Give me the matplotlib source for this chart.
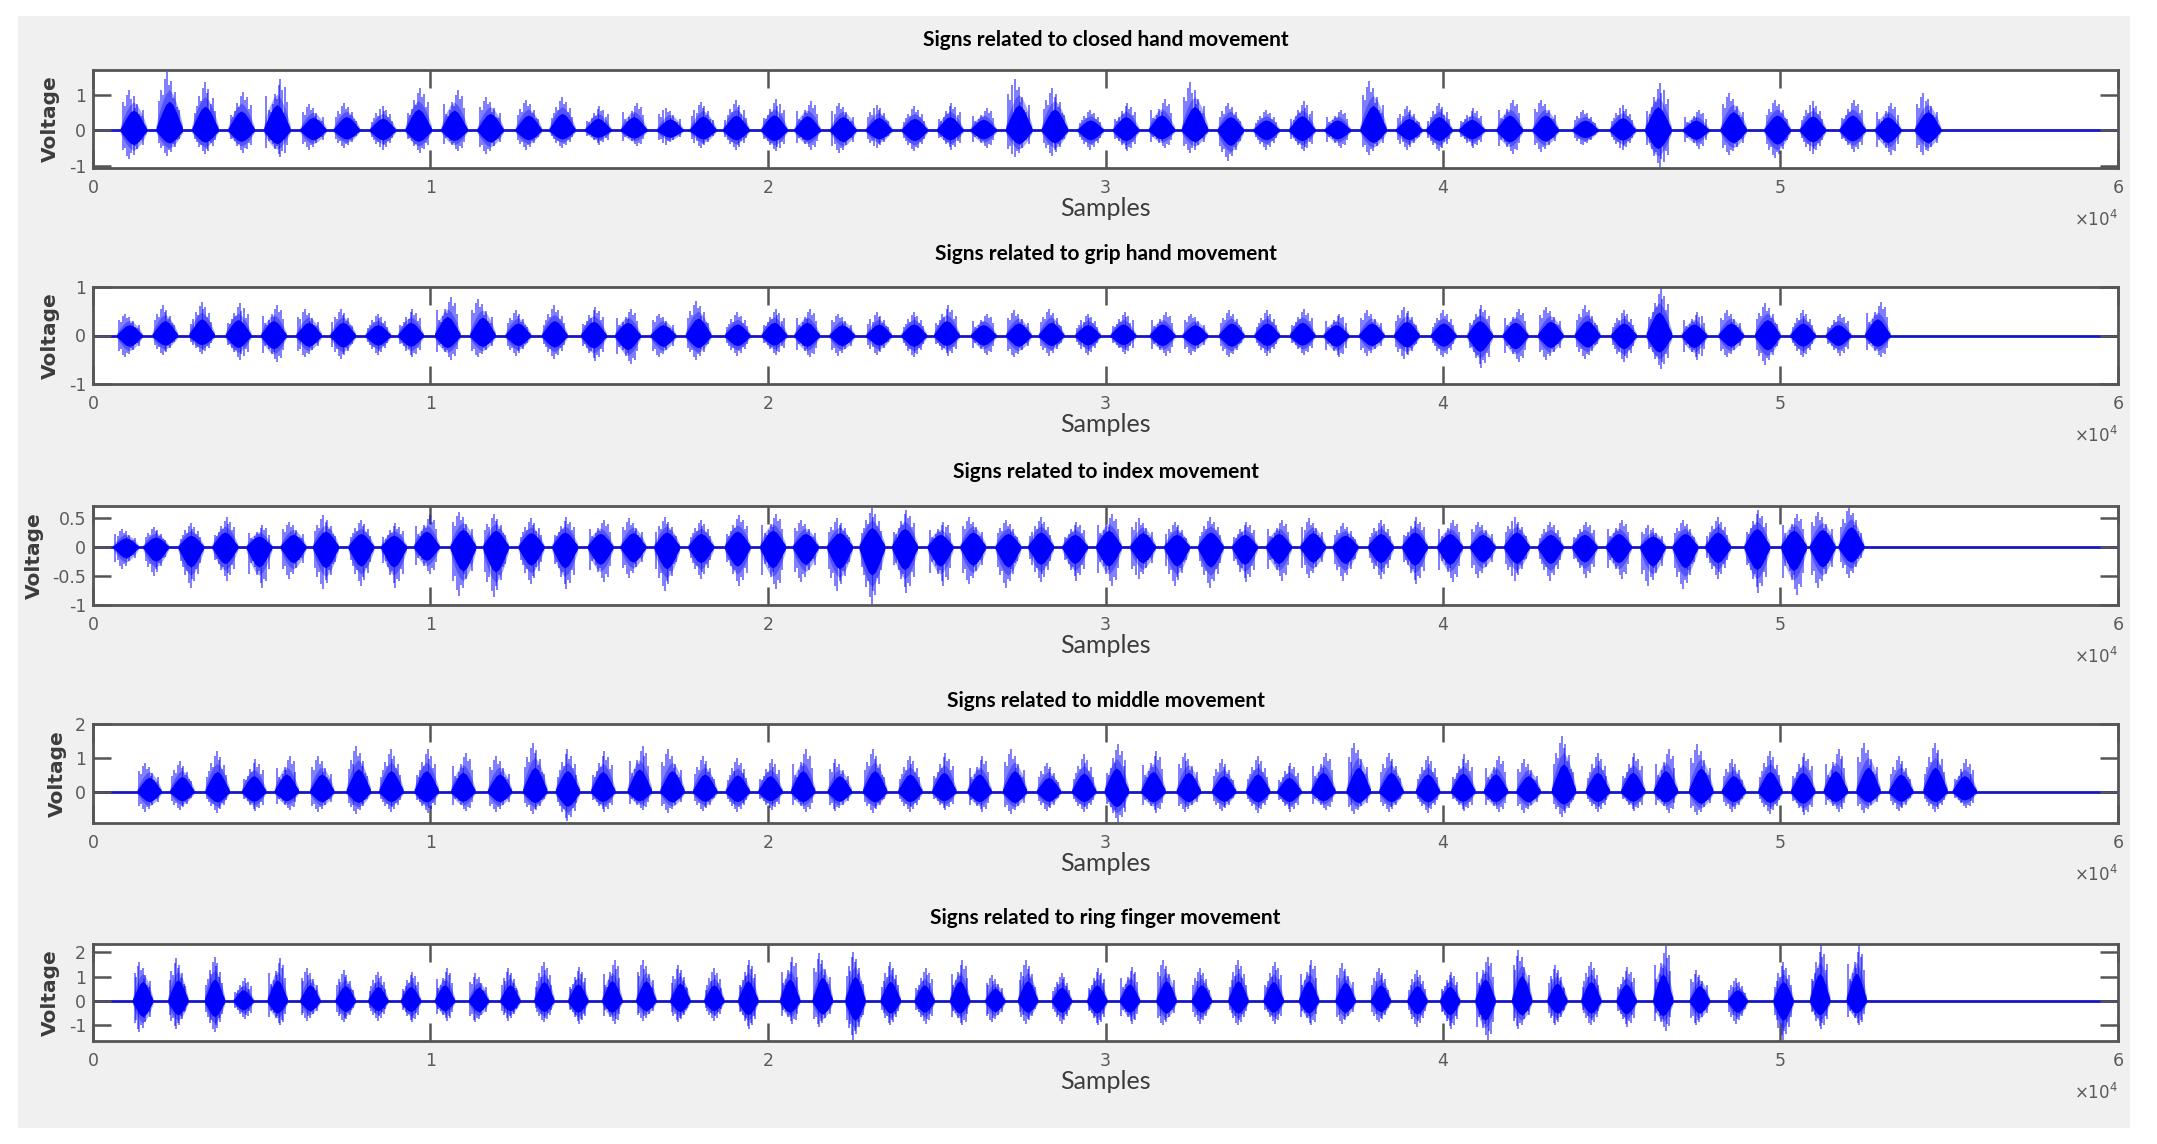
import numpy as np
import matplotlib
matplotlib.use("Agg")
import matplotlib.pyplot as plt
import matplotlib.transforms as mtransforms
from matplotlib.patches import Rectangle
from matplotlib.ticker import FuncFormatter

plt.rcParams['axes.unicode_minus'] = False

# ==============================
# Data (burst centres in samples, peak voltages)
# ==============================

titles = [
    "Signs related to closed hand movement",
    "Signs related to grip hand movement",
    "Signs related to index movement",
    "Signs related to middle movement",
    "Signs related to ring finger movement",
]

closed_centers = [1200, 2260, 3320, 4390, 5450, 6520, 7510, 8580, 9640, 10700,
                  11770, 12900, 13900, 14960, 16020, 17090, 18070, 19050, 20180, 21160,
                  22220, 23280, 24340, 25390, 26380, 27430, 28490, 29550, 30600, 31660,
                  32640, 33700, 34760, 35820, 36870, 37930, 38990, 39880, 40850, 41970,
                  43030, 44210, 45320, 46370, 47490, 48600, 49900, 50950, 52130, 53180,
                  54360]
closed_tops = [1.14, 1.64, 1.36, 1.09, 1.45, 0.73, 0.77, 0.68, 1.2, 1.14,
               0.95, 0.86, 0.95, 0.68, 0.77, 0.64, 0.8, 0.85, 0.87, 0.82,
               0.77, 0.72, 0.67, 0.77, 0.62, 1.44, 1.2, 0.58, 0.77, 0.87,
               1.35, 0.77, 0.58, 0.82, 0.58, 1.4, 0.67, 0.77, 0.62, 0.86,
               0.86, 0.57, 0.71, 1.33, 0.57, 1.05, 0.86, 0.81, 0.86, 0.76,
               1.05]
closed_bottoms = [-0.82, -0.73, -0.68, -0.64, -0.77, -0.55, -0.5, -0.55, -0.64, -0.59,
                  -0.68, -0.55, -0.5, -0.41, -0.45, -0.41, -0.5, -0.55, -0.6, -0.55,
                  -0.65, -0.5, -0.6, -0.55, -0.5, -0.77, -0.72, -0.55, -0.6, -0.5,
                  -0.65, -0.87, -0.55, -0.6, -0.5, -0.7, -0.55, -0.6, -0.5, -0.67,
                  -0.62, -0.43, -0.57, -1.05, -0.52, -0.71, -0.8, -0.67, -0.62, -0.71,
                  -0.71]

grip_centers = [1080, 2130, 3220, 4300, 5350, 6390, 7400, 8440, 9410, 10500,
                11540, 12590, 13670, 14830, 15840, 16890, 17930, 19090, 20180, 21150,
                22190, 23280, 24320, 25290, 26380, 27420, 28390, 29470, 30520, 31680,
                32650, 33730, 34780, 35830, 36830, 37880, 38920, 40010, 41090, 42140,
                43180, 44270, 45350, 46400, 47440, 48530, 49610, 50660, 51710, 52870]
grip_tops = [0.45, 0.62, 0.69, 0.66, 0.62, 0.55, 0.55, 0.45, 0.55, 0.79,
             0.76, 0.52, 0.62, 0.59, 0.55, 0.45, 0.72, 0.48, 0.55, 0.55,
             0.45, 0.48, 0.48, 0.62, 0.45, 0.52, 0.55, 0.45, 0.48, 0.48,
             0.45, 0.52, 0.52, 0.55, 0.45, 0.52, 0.59, 0.52, 0.62, 0.55,
             0.59, 0.62, 0.52, 0.97, 0.48, 0.52, 0.66, 0.52, 0.45, 0.69]
grip_bottoms = [-0.45, -0.4, -0.38, -0.5, -0.55, -0.45, -0.48, -0.4, -0.45, -0.5,
                -0.45, -0.42, -0.48, -0.52, -0.59, -0.45, -0.5, -0.42, -0.4, -0.45,
                -0.42, -0.4, -0.45, -0.42, -0.4, -0.45, -0.42, -0.4, -0.38, -0.42,
                -0.4, -0.45, -0.42, -0.4, -0.45, -0.42, -0.48, -0.45, -0.66, -0.55,
                -0.5, -0.48, -0.55, -0.69, -0.5, -0.45, -0.6, -0.45, -0.42, -0.45]

index_centers = [970, 1860, 2900, 3910, 4920, 5930, 6890, 7940, 8910, 9880,
                 10960, 11930, 12980, 13980, 15030, 16000, 17000, 18010, 19090, 20140,
                 21110, 22120, 23080, 24050, 25100, 26070, 27110, 28080, 29090, 30090,
                 31100, 32110, 33110, 34120, 35130, 36140, 37100, 38150, 39160, 40200,
                 41170, 42180, 43180, 44190, 45200, 46210, 47170, 48140, 49300, 50390,
                 51240, 52090]
index_tops = [0.31, 0.34, 0.4, 0.51, 0.37, 0.43, 0.54, 0.46, 0.4, 0.54,
              0.6, 0.57, 0.49, 0.51, 0.46, 0.49, 0.51, 0.46, 0.54, 0.57,
              0.46, 0.49, 0.66, 0.63, 0.43, 0.51, 0.46, 0.51, 0.43, 0.57,
              0.49, 0.43, 0.51, 0.43, 0.46, 0.49, 0.4, 0.46, 0.51, 0.46,
              0.43, 0.51, 0.43, 0.43, 0.46, 0.37, 0.46, 0.51, 0.63, 0.57,
              0.6, 0.69]
index_bottoms = [-0.38, -0.5, -0.7, -0.58, -0.7, -0.55, -0.73, -0.67, -0.7, -0.47,
                 -0.84, -0.87, -0.64, -0.73, -0.61, -0.53, -0.76, -0.55, -0.67, -0.73,
                 -0.61, -0.76, -0.98, -0.79, -0.67, -0.64, -0.7, -0.61, -0.58, -0.67,
                 -0.55, -0.67, -0.7, -0.61, -0.58, -0.53, -0.58, -0.55, -0.64, -0.61,
                 -0.53, -0.58, -0.58, -0.53, -0.55, -0.67, -0.73, -0.55, -0.79, -0.82,
                 -0.7, -0.53]

middle_centers = [1665, 2634, 3679, 4764, 5732, 6778, 7862, 8830, 9876, 10961,
                  12045, 13091, 14059, 15105, 16189, 17157, 18126, 19094, 20062, 21030,
                  22115, 23160, 24206, 25213, 26259, 27305, 28312, 29357, 30325, 31410,
                  32456, 33501, 34508, 35438, 36445, 37491, 38459, 39543, 40589, 41557,
                  42525, 43571, 44578, 45624, 46592, 47638, 48606, 49690, 50659, 51627,
                  52595, 53563, 54580, 55450]
middle_tops = [0.85, 0.9, 1.2, 0.95, 1.05, 1.05, 1.35, 1.25, 1.25, 1.15,
               1.05, 1.45, 1.25, 1.2, 1.35, 1.25, 1.05, 1.0, 0.95, 1.25,
               0.95, 1.25, 1.05, 1.15, 1.05, 1.25, 0.85, 1.1, 1.4, 1.2,
               1.15, 0.95, 1.05, 0.85, 1.15, 1.45, 1.15, 1.05, 1.1, 1.05,
               0.95, 1.65, 1.15, 1.15, 1.25, 1.4, 0.95, 1.2, 1.15, 1.25,
               1.45, 1.05, 1.45, 0.95]
middle_bottoms = [-0.6, -0.55, -0.62, -0.58, -0.55, -0.6, -0.65, -0.6, -0.62, -0.58,
                  -0.6, -0.65, -0.88, -0.6, -0.55, -0.62, -0.58, -0.6, -0.55, -0.6,
                  -0.58, -0.62, -0.6, -0.55, -0.6, -0.65, -0.58, -0.6, -0.9, -0.62,
                  -0.6, -0.58, -0.62, -0.6, -0.55, -0.65, -0.6, -0.62, -0.58, -0.6,
                  -0.62, -0.75, -0.6, -0.58, -0.62, -0.7, -0.6, -0.65, -0.7, -0.6,
                  -0.62, -0.58, -0.6, -0.5]

ring_centers = [1472, 2517, 3602, 4454, 5461, 6429, 7475, 8443, 9411, 10418,
                11425, 12355, 13362, 14369, 15376, 16383, 17390, 18397, 19404, 20643,
                21611, 22580, 23625, 24632, 25678, 26724, 27692, 28699, 29745, 30713,
                31797, 32843, 33927, 34973, 36019, 37103, 38149, 39233, 40201, 41247,
                42332, 43378, 44384, 45430, 46515, 47599, 48722, 50078, 51162, 52246]
ring_tops = [1.62, 1.76, 1.83, 0.93, 1.76, 1.35, 1.28, 1.21, 1.21, 1.35,
             1.14, 1.35, 1.62, 1.42, 1.69, 1.69, 1.49, 1.35, 1.69, 1.83,
             1.97, 2.04, 1.62, 1.35, 1.69, 1.07, 1.69, 1.14, 1.35, 1.42,
             1.69, 1.35, 1.69, 1.62, 1.69, 1.56, 1.35, 1.28, 1.21, 1.83,
             2.11, 1.49, 1.62, 1.42, 2.25, 1.28, 0.93, 1.62, 2.3, 2.3]
ring_bottoms = [-1.29, -1.15, -1.29, -0.74, -1.01, -0.81, -0.88, -0.81, -0.88, -0.81,
                -0.88, -0.81, -0.88, -0.94, -0.94, -0.81, -0.88, -0.81, -1.15, -0.94,
                -1.08, -1.6, -1.01, -0.94, -1.01, -0.88, -0.94, -0.94, -1.01, -0.94,
                -1.01, -0.94, -1.01, -0.94, -1.01, -0.94, -0.88, -1.08, -1.15, -1.6,
                -1.15, -1.01, -1.01, -1.08, -1.22, -1.01, -0.94, -1.6, -1.15, -1.01]

y_limits = [(-1.07, 1.7), (-1.0, 1.0), (-1.0, 0.7), (-0.93, 2.0), (-1.65, 2.35)]
y_ticks = [[-1, 0, 1], [-1, 0, 1], [-1, -0.5, 0, 0.5], [0, 1, 2], [-1, 0, 1, 2]]
x_ticks = [0, 10000, 20000, 30000, 40000, 50000, 60000]

# ==============================
# Drawing helpers
# ==============================

BLUE = '#0000ff'
SPINDLE_X = np.array([-0.5, -0.4, -0.28, -0.14, 0.0, 0.14, 0.28, 0.4, 0.5])
CORE_Y = np.array([0.05, 0.16, 0.3, 0.44, 0.5, 0.44, 0.3, 0.16, 0.05])
OUTER_Y = np.array([0.1, 0.28, 0.46, 0.62, 0.7, 0.62, 0.46, 0.28, 0.1])
SPIKE_X = np.array([-0.4, -0.32, -0.24, -0.16, -0.08, 0.0, 0.06, 0.13, 0.21, 0.29, 0.37])
SPIKE_H = np.array([0.35, 0.5, 0.7, 0.6, 0.88, 1.0, 0.78, 0.85, 0.55, 0.66, 0.4])


def draw_bursts(ax, centers, tops, bottoms, width):
    for k, (c, hi, lo) in enumerate(zip(centers, tops, bottoms)):
        xs = c + width * SPINDLE_X
        ax.fill_between(xs, lo * OUTER_Y, hi * OUTER_Y, color=BLUE, alpha=0.35, lw=0)
        ax.fill_between(xs, lo * CORE_Y, hi * CORE_Y, color=BLUE, lw=0)
        h = np.roll(SPIKE_H, k % 5 - 2)
        ax.vlines(c + width * SPIKE_X, lo * h, hi * h, color=BLUE, lw=1.1, alpha=0.65)


# ==============================
# Figure
# ==============================

W, H = 2157, 1144
fig = plt.figure(figsize=(W / 100, H / 100), dpi=100)
fig.patches.append(Rectangle((18 / W, 1 - 1128 / H), (2130 - 18) / W, (1128 - 16) / H,
                             transform=fig.transFigure, facecolor='#f0f0f0',
                             edgecolor='none', zorder=-10))

boxes = [(70, 168), (287, 384), (506, 605), (724, 823), (944, 1041)]
title_gap = [30, 33, 34, 23, 26]
signals = [
    (closed_centers, closed_tops, closed_bottoms, 780),
    (grip_centers, grip_tops, grip_bottoms, 760),
    (index_centers, index_tops, index_bottoms, 760),
    (middle_centers, middle_tops, middle_bottoms, 720),
    (ring_centers, ring_tops, ring_bottoms, 600),
]

GREY_TXT = '#5a5a5a'
EDGE = '#555555'

for i, (top, bot) in enumerate(boxes):
    ax = fig.add_axes([93 / W, 1 - bot / H, (2118 - 93) / W, (bot - top) / H])
    ax.set_facecolor('white')
    centers, tops, bottoms, width = signals[i]
    ax.axhline(0, color='#1515c8', lw=2.0, zorder=1)
    draw_bursts(ax, centers, tops, bottoms, width)

    ax.set_xlim(0, 60000)
    ax.set_ylim(*y_limits[i])
    ax.set_xticks(x_ticks)
    ax.set_yticks(y_ticks[i])
    ax.xaxis.set_major_formatter(FuncFormatter(lambda v, p: '%g' % (v / 10000)))
    ax.yaxis.set_major_formatter(FuncFormatter(lambda v, p: '%g' % v))
    ax.tick_params(direction='in', length=13, width=1.8, color=EDGE,
                   top=True, right=True, labelsize=12.5, labelcolor=GREY_TXT)
    ax.tick_params(axis='x', pad=8)
    ax.tick_params(axis='y', pad=5)
    for s in ax.spines.values():
        s.set_color(EDGE)
        s.set_linewidth(2.0)

    ax.set_xlabel('Samples', fontsize=18, color='#3c3c3c', family='Lato', labelpad=0)
    ax.set_ylabel('Voltage', fontsize=14.5, color='#3c3c3c', fontweight='bold', labelpad=6)

    t_off = mtransforms.offset_copy(ax.transAxes, fig=fig, x=0, y=title_gap[i], units='dots')
    ax.text(0.5, 1.0, titles[i], transform=t_off, ha='center', va='center',
            fontsize=15, fontweight='bold', family='Lato', color='black')
    m_off = mtransforms.offset_copy(ax.transAxes, fig=fig, x=0, y=-52, units='dots')
    ax.text(1.0, 0.0, r'$\times10^4$', transform=m_off, ha='right', va='center',
            fontsize=12, color=GREY_TXT)

fig.savefig('out.png', dpi=100)
